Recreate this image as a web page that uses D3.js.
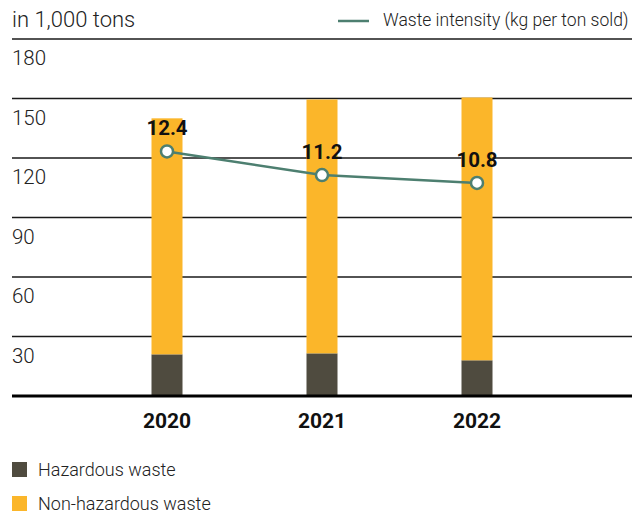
<!DOCTYPE html>
<html>
<head>
<meta charset="utf-8">
<script src="https://cdn.jsdelivr.net/npm/d3@7"></script>
<style>
  body { margin: 0; background: #fff; }
  svg { display: block; font-family: Roboto, "Noto Sans", sans-serif; }
</style>
</head>
<body>
<div id="chart"></div>
<script>
const WIDTH = 643;
const HEIGHT = 513;

// data, in 1,000 tons
const years = ["2020", "2021", "2022"];
const hazardous = [21, 21.5, 18];
const nonHazardous = [119, 128, 132.5];
const intensity = [12.4, 11.2, 10.8]; // kg per ton sold
const yTicks = [30, 60, 90, 120, 150, 180];

const ORANGE = "#fbb62a";
const DARK = "#4f4b3f";
const GREEN = "#4d7f70";

const svg = d3.select("#chart").append("svg")
  .attr("width", WIDTH)
  .attr("height", HEIGHT);

const x = d3.scalePoint().domain(years).range([12, 632]).padding(1);
const y = d3.scaleLinear().domain([0, 180]).range([396, 39]);
const y2 = d3.scaleLinear().domain([0, 18.1]).range([396, 39]); // intensity line, hidden scale

// header
svg.append("text")
  .attr("x", 12).attr("y", 27)
  .style("font-size", "22px").style("font-weight", 300).style("fill", "#222")
  .text("in 1,000 tons");

svg.append("line")
  .attr("x1", 338).attr("x2", 369).attr("y1", 21).attr("y2", 21)
  .style("stroke", GREEN).style("stroke-width", 2.5);
svg.append("text")
  .attr("x", 383).attr("y", 26)
  .style("font-size", "17.5px").style("font-weight", 300).style("fill", "#222")
  .text("Waste intensity (kg per ton sold)");

// gridlines + tick labels
const grid = svg.append("g");
grid.selectAll("line")
  .data(yTicks)
  .enter()
  .append("line")
  .attr("x1", 12).attr("x2", 632)
  .attr("y1", d => y(d)).attr("y2", d => y(d))
  .style("stroke", "#1a1a1a")
  .style("stroke-width", 1.6);
grid.selectAll("text")
  .data(yTicks)
  .enter()
  .append("text")
  .attr("x", 12)
  .attr("y", d => y(d) + 26)
  .style("font-size", "20.5px").style("font-weight", 300).style("fill", "#222")
  .text(d => d);

// stacked bars
const BAR_W = 31;
const stacks = years.map((yr, i) => ({ year: yr, haz: hazardous[i], non: nonHazardous[i] }));
const bars = svg.append("g");
bars.selectAll(".haz")
  .data(stacks)
  .enter()
  .append("rect")
  .attr("class", "haz")
  .attr("x", d => x(d.year) - BAR_W / 2)
  .attr("width", BAR_W)
  .attr("y", d => y(d.haz))
  .attr("height", d => y(0) - y(d.haz))
  .style("fill", DARK);
bars.selectAll(".non")
  .data(stacks)
  .enter()
  .append("rect")
  .attr("class", "non")
  .attr("x", d => x(d.year) - BAR_W / 2)
  .attr("width", BAR_W)
  .attr("y", d => y(d.haz + d.non))
  .attr("height", d => y(d.haz) - y(d.haz + d.non))
  .style("fill", ORANGE);

// baseline
svg.append("line")
  .attr("x1", 12).attr("x2", 632)
  .attr("y1", y(0)).attr("y2", y(0))
  .style("stroke", "#000").style("stroke-width", 3);

// year labels
svg.append("g").selectAll("text")
  .data(years)
  .enter()
  .append("text")
  .attr("x", d => x(d))
  .attr("y", 428)
  .attr("text-anchor", "middle")
  .style("font-size", "21px").style("font-weight", 700).style("fill", "#111")
  .text(d => d);

// intensity line
const pts = years.map((yr, i) => ({ year: yr, v: intensity[i] }));
svg.append("path")
  .datum(pts)
  .attr("d", d3.line().x(d => x(d.year)).y(d => y2(d.v)))
  .style("fill", "none")
  .style("stroke", GREEN)
  .style("stroke-width", 2.5);
svg.append("g").selectAll("circle")
  .data(pts)
  .enter()
  .append("circle")
  .attr("cx", d => x(d.year))
  .attr("cy", d => y2(d.v))
  .attr("r", 6)
  .style("fill", "#fff")
  .style("stroke", GREEN)
  .style("stroke-width", 2.5);
svg.append("g").selectAll("text")
  .data(pts)
  .enter()
  .append("text")
  .attr("x", d => x(d.year))
  .attr("y", d => y2(d.v) - 16)
  .attr("text-anchor", "middle")
  .style("font-size", "20.5px").style("font-weight", 700).style("fill", "#111")
  .text(d => d3.format(".1f")(d.v));

// legend
const legend = [
  { name: "Hazardous waste", color: DARK },
  { name: "Non-hazardous waste", color: ORANGE }
];
const lg = svg.append("g").selectAll("g")
  .data(legend)
  .enter()
  .append("g")
  .attr("transform", (d, i) => "translate(12," + (462 + i * 34) + ")");
lg.append("rect")
  .attr("width", 15).attr("height", 15)
  .style("fill", d => d.color);
lg.append("text")
  .attr("x", 26).attr("y", 14)
  .style("font-size", "18px").style("font-weight", 300).style("fill", "#222")
  .text(d => d.name);
</script>
</body>
</html>
